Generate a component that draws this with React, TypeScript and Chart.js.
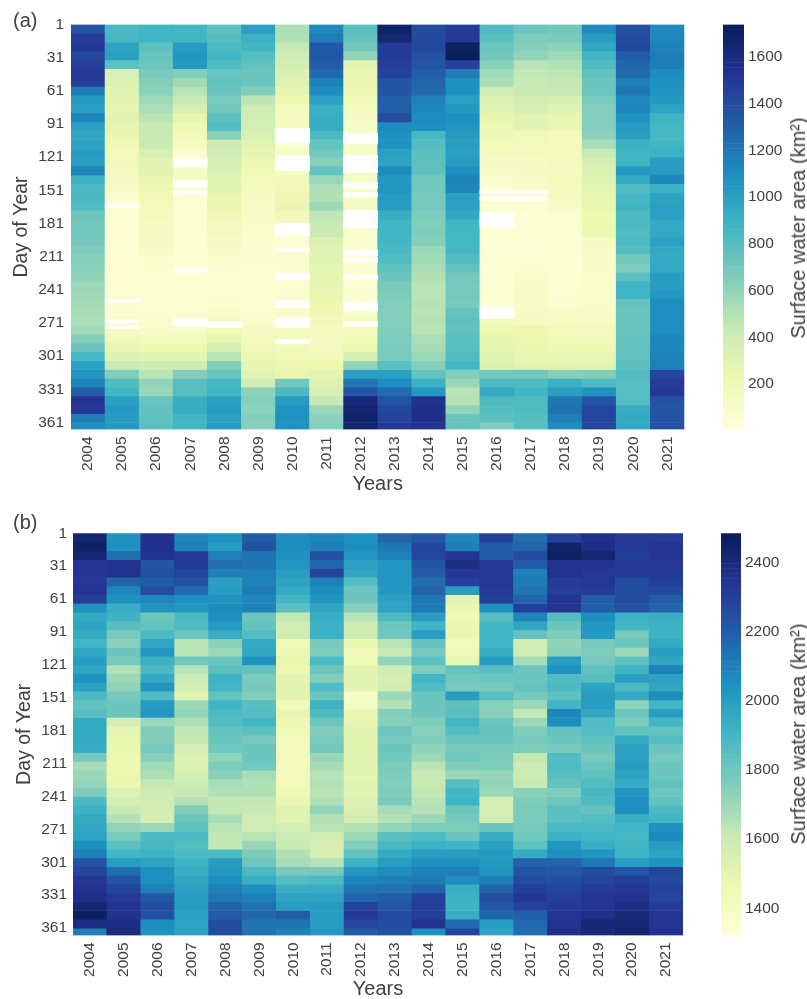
import React, { useEffect, useRef } from "react";
import { Chart, registerables } from "chart.js";

Chart.register(...registerables);

const years = ["2004","2005","2006","2007","2008","2009","2010","2011","2012","2013","2014","2015","2016","2017","2018","2019","2020","2021"];
const dayTicks = [1,31,61,91,121,151,181,211,241,271,301,331,361];
const rowDays = [1,9,17,25,33,41,49,57,65,73,81,89,97,105,113,121,129,137,145,153,161,169,177,185,193,201,209,217,225,233,241,249,257,265,273,281,289,297,305,313,321,329,337,345,353,361];
const barTicksA = [200,400,600,800,1000,1200,1400,1600];
const barTicksB = [1400,1600,1800,2000,2200,2400];
const paletteStops = ["#ffffd9","#edf8b1","#c7e9b4","#7fcdbb","#41b6c4","#1d91c0","#225ea8","#253494","#081d58"];

const a2004 = [1350,1480,1500,1430,1470,1500,1480,1180,1030,1000,1140,1010,960,980,1030,1010,1150,900,830,840,820,720,700,700,690,660,640,620,600,570,560,540,530,520,560,650,720,850,1000,1060,1150,1300,1520,1500,1180,1100];
const a2005 = [840,850,980,1000,780,340,320,300,280,260,280,260,250,200,170,180,150,120,100,60,50,50,45,45,45,45,45,45,45,45,50,60,70,90,130,180,250,320,430,650,820,880,1000,1050,1030,1040];
const a2006 = [880,880,780,740,720,680,640,620,560,520,480,430,420,420,350,300,280,250,230,200,170,150,130,130,120,110,70,70,50,50,50,50,60,80,100,150,220,300,400,480,600,580,740,760,770,780];
const a2007 = [860,870,1030,1060,1040,650,560,480,420,340,250,200,170,130,70,60,130,120,100,50,50,50,50,50,50,50,50,50,50,50,50,50,60,80,110,150,220,280,400,650,790,800,920,930,870,870];
const a2008 = [760,800,830,860,820,740,760,730,680,700,770,800,630,420,380,350,340,280,280,240,230,200,150,150,130,100,70,60,50,50,60,70,90,130,190,250,340,480,650,740,860,880,1000,1030,1000,1030];
const a2009 = [1000,900,870,800,760,730,720,650,470,400,380,370,340,300,260,230,200,170,140,130,100,100,90,80,70,60,60,50,50,50,50,50,60,80,120,150,200,230,260,300,380,620,640,620,640,640];
const a2010 = [520,510,440,400,370,330,300,270,220,160,140,150,90,70,110,120,100,180,180,210,250,180,130,60,50,60,60,60,60,60,60,60,90,120,130,150,170,200,230,250,700,830,1030,1070,1080,1080];
const a2011 = [1120,1180,1330,1340,1320,1260,1150,1100,1000,900,930,920,830,750,700,630,750,580,520,500,570,460,430,420,330,300,290,270,260,250,240,230,210,170,130,130,140,180,220,280,320,340,430,580,620,640];
const a2012 = [780,760,700,600,280,250,250,230,200,150,120,100,90,90,100,90,170,120,100,110,130,110,120,70,60,60,60,60,60,60,60,70,90,120,150,190,230,350,600,1000,1200,1350,1620,1660,1680,1660];
const a2013 = [1680,1640,1480,1480,1470,1450,1350,1350,1300,1310,1400,1100,1090,1080,1000,980,1120,1040,1060,1030,1020,920,880,870,860,840,820,770,720,680,660,650,640,640,650,660,680,680,780,1000,1100,1250,1360,1420,1440,1500];
const a2014 = [1400,1410,1420,1380,1350,1300,1280,1260,1160,1130,1110,1090,850,800,780,770,770,700,700,680,690,660,650,660,640,570,560,530,500,480,480,490,480,490,480,520,540,570,640,750,900,1050,1550,1560,1560,1530];
const a2015 = [1480,1500,1700,1720,1450,1180,1080,1090,1000,1050,1090,1060,1040,1020,1000,1030,1100,1150,1130,1000,1000,950,870,860,860,860,820,760,700,680,690,680,750,770,760,780,800,820,860,650,580,480,490,600,720,750];
const a2016 = [820,780,720,700,620,550,520,400,320,280,250,220,200,170,150,120,100,80,70,60,60,40,40,40,40,40,40,40,40,40,40,40,150,170,220,250,270,280,330,700,830,950,830,790,770,650];
const a2017 = [730,660,640,600,480,450,430,420,380,350,290,280,180,170,150,130,130,110,90,80,60,40,40,40,40,40,40,60,80,100,100,110,120,130,220,230,240,250,300,700,820,880,820,820,800,790];
const a2018 = [700,680,620,560,500,470,450,430,350,300,250,240,150,150,150,150,140,170,150,140,110,60,50,50,50,50,50,50,50,50,60,70,100,130,170,190,220,250,300,640,900,1000,1200,1220,1160,1100];
const a2019 = [1120,1030,960,860,820,760,720,720,680,640,640,640,620,530,430,360,330,310,270,240,240,220,220,230,120,100,90,90,80,80,80,90,110,130,150,180,210,250,300,650,820,1080,1350,1430,1430,1430];
const a2020 = [1380,1400,1420,1320,1270,1250,1160,1200,1120,1130,1070,1030,1010,900,880,870,1040,950,820,850,880,830,830,820,830,800,700,660,780,880,880,750,720,720,730,740,760,760,780,820,800,800,800,930,950,950];
const a2021 = [1120,1130,1150,1180,1170,1110,1090,1070,1040,980,880,860,850,880,900,1020,1030,1130,900,980,1000,1000,950,950,1000,950,950,950,1020,1020,1050,1100,1100,1100,1100,1130,1130,1150,1160,1430,1480,1500,1380,1350,1360,1370];

const b2004 = [2430,2450,2420,2340,2340,2330,2340,2300,2040,1950,1970,1950,1900,1960,2000,1970,2040,1980,1880,1820,1850,1950,1950,1950,1940,1780,1680,1700,1720,1760,1880,1920,1950,1960,1980,2050,2100,2230,2280,2330,2350,2370,2420,2460,2380,2100];
const b2005 = [2040,2050,2150,2350,2350,2180,2080,2050,1940,1910,1850,1780,1740,1800,1780,1660,1700,1720,1780,1800,1810,1550,1500,1480,1480,1470,1460,1470,1480,1530,1560,1610,1650,1720,1770,1840,1900,2000,2150,2230,2280,2320,2340,2350,2380,2390];
const b2006 = [2350,2360,2350,2220,2240,2200,2250,2080,2040,1800,1820,1880,1960,2030,1920,1880,1950,2030,1870,2010,2020,1700,1760,1750,1780,1740,1690,1670,1620,1590,1580,1570,1560,1700,1880,1890,1920,1980,2050,2050,2100,2220,2250,2240,2060,2040];
const b2007 = [2080,2100,2320,2330,2280,2240,2160,2050,2020,1880,1870,1800,1640,1640,1790,1640,1590,1560,1520,1700,1720,1660,1620,1610,1560,1530,1530,1560,1590,1610,1650,1760,1810,1830,1880,1860,1880,1910,1930,1960,1990,2000,2010,1990,1980,1990];
const b2008 = [2040,2010,2100,2150,2100,1990,2000,2040,2060,2050,2010,1940,1740,1700,1800,1840,1910,1900,1820,1900,1880,1860,1820,1800,1790,1730,1760,1740,1680,1660,1620,1620,1680,1640,1620,1620,1880,2000,2020,2050,2100,2120,2180,2200,2250,2260];
const b2009 = [2200,2230,2130,2130,2100,2090,2110,2080,2090,1800,1820,1860,1950,1960,2040,1820,1770,1780,1750,1850,1860,1900,1840,1780,1800,1800,1790,1680,1660,1660,1620,1600,1580,1580,1640,1710,1760,1800,1880,1930,2050,2100,2140,2170,2130,2140];
const b2010 = [2060,2060,2040,2030,2000,1980,1950,1900,1840,1620,1570,1570,1450,1470,1480,1460,1500,1510,1500,1430,1490,1460,1450,1420,1420,1430,1420,1420,1430,1450,1480,1520,1520,1560,1590,1600,1660,1680,1780,1860,1930,1980,2000,2200,2130,2090];
const b2011 = [2080,2100,2240,2170,2280,2090,2060,2030,1970,1930,1920,1920,1780,1760,1880,1800,1750,1870,1800,1920,1870,1800,1750,1770,1790,1710,1680,1640,1650,1640,1660,1720,1650,1640,1580,1540,1560,1650,1780,1880,1940,1980,2010,2000,2000,2030];
const b2012 = [2050,2050,2020,1990,1960,1860,1800,1800,1740,1640,1580,1590,1480,1440,1450,1500,1510,1500,1390,1400,1480,1490,1510,1500,1500,1510,1500,1500,1520,1510,1530,1540,1560,1650,1700,1750,1820,1920,2020,2080,2130,2170,2290,2330,2280,2200];
const b2013 = [2180,2120,2090,2030,2030,2030,2020,1990,1980,1880,1800,1790,1640,1600,1720,1580,1560,1570,1700,1650,1750,1740,1800,1780,1800,1790,1770,1760,1750,1760,1770,1680,1650,1720,1840,1880,1950,2000,2060,2100,2130,2200,2220,2260,2250,2240];
const b2014 = [2220,2280,2280,2220,2200,2150,2180,2120,2110,2000,1900,2000,1820,1780,1840,1760,1900,1870,1800,1800,1800,1760,1740,1760,1720,1700,1640,1600,1610,1620,1640,1650,1700,1760,1870,1920,2000,2050,2100,2110,2180,2290,2300,2300,2350,2050];
const b2015 = [2080,2100,2340,2380,2330,2300,2000,1520,1470,1450,1470,1480,1430,1450,1490,1820,1790,1780,2000,1830,1850,1900,1860,1800,1780,1790,1750,1700,1850,1900,1910,1800,1780,1760,1800,1900,2000,2050,2100,2060,1930,1920,1910,1940,2160,2280];
const b2016 = [2290,2200,2200,2320,2330,2330,2320,2300,2050,1850,1900,1900,1900,1930,2000,1850,1800,1780,1850,1740,1740,1800,1820,1800,1780,1770,1760,1710,1720,1700,1560,1560,1570,1800,1930,1990,2010,2020,2030,2100,2180,2250,2220,2170,2000,1980];
const b2017 = [2150,2180,2260,2200,2100,2110,2130,2180,2300,2080,1970,1820,1580,1580,1680,1800,1800,1820,1780,1700,1620,1700,1760,1780,1760,1620,1590,1590,1610,1740,1760,1770,1770,1780,1790,1830,1950,2180,2230,2260,2300,2330,2290,2190,2160,2150];
const b2018 = [2290,2440,2450,2350,2350,2310,2300,2340,2340,1860,1800,1760,1720,1740,2000,2040,1870,1880,1830,1900,2080,2050,1820,1800,1780,1860,1870,1850,1820,1760,1800,1840,1840,1880,1920,2030,2050,2180,2220,2250,2280,2300,2320,2340,2350,2370];
const b2019 = [2360,2380,2430,2350,2330,2330,2310,2200,2190,2050,2020,2010,1780,1760,1780,1830,1850,1980,2000,2000,1960,1870,1860,1830,1800,1780,1810,1830,1860,1890,1880,1820,1860,1880,1900,1940,2030,2120,2250,2280,2320,2340,2340,2370,2420,2400];
const b2020 = [2320,2320,2300,2320,2310,2250,2250,2260,2240,1920,1900,1780,1800,1700,1830,1900,2000,1880,1950,1730,1800,1760,1820,1950,1990,1990,2000,1980,1950,2030,2050,2050,1930,1900,1890,1900,1910,2000,2210,2300,2330,2350,2380,2410,2420,2430];
const b2021 = [2320,2340,2340,2330,2320,2300,2270,2200,2180,1930,1920,1920,1950,2000,1960,2090,1980,1960,2060,1900,2000,1900,1820,1860,1800,1780,1800,1800,1830,1800,1820,1880,1900,2040,2070,2000,1980,2040,2280,2260,2290,2280,2310,2340,2340,2350];

// Periods with no data in panel (a): [year, first day, last day]
const missingA: [string, number, number][] = [
  ["2005",164,167],["2005",250,252],["2005",268,271],["2005",273.5,276],
  ["2007",122,130],["2007",142,148],["2007",151,155],["2007",222,225],["2007",267,274],
  ["2008",270,275],
  ["2010",95,108],["2010",119.5,133],["2010",181,192],["2010",203,206],["2010",226,232],["2010",251,257],["2010",266,275],["2010",286,290],
  ["2012",99.6,108.6],["2012",119.5,135],["2012",144,149],["2012",153,157],["2012",169,185],["2012",205,210],["2012",212,216],["2012",228,232],["2012",252,260],["2012",270,274],
  ["2016",151,154],["2016",157,160],["2017",151,154],["2017",157,160],["2016",171,184],["2016",257,267],
];

const tableA = [a2004,a2005,a2006,a2007,a2008,a2009,a2010,a2011,a2012,a2013,a2014,a2015,a2016,a2017,a2018,a2019,a2020,a2021];
const tableB = [b2004,b2005,b2006,b2007,b2008,b2009,b2010,b2011,b2012,b2013,b2014,b2015,b2016,b2017,b2018,b2019,b2020,b2021];

const FONT = "'Liberation Sans', Arial, sans-serif";
const INK = "#404040";
const SOFT = "blur(0.55px)";

function hexRgb(h: string) {
  return [1, 3, 5].map((i) => parseInt(h.slice(i, i + 2), 16));
}
function colour(v: number, lo: number, hi: number) {
  const t = Math.max(0, Math.min(1, (v - lo) / (hi - lo))) * (paletteStops.length - 1);
  const i = Math.min(paletteStops.length - 2, Math.floor(t));
  const a = hexRgb(paletteStops[i]);
  const b = hexRgb(paletteStops[i + 1]);
  const f = t - i;
  return `rgb(${a.map((c, k) => Math.round(c + (b[k] - c) * f)).join(",")})`;
}

type HeatCfg = {
  table: number[][]; lo: number; hi: number; missing: [string, number, number][];
  dayMax: number; left: number; top: number; xHeight: number; right: number;
  tickPad: number; xPad: number; yTitlePad: number; xTitlePad: number;
};

function makeHeat(canvas: HTMLCanvasElement, c: HeatCfg) {
  // Chart.js paints the first dataset last, so the no-data periods go first.
  const datasets: any[] = c.missing.map(([yr, s, e]) => ({
    data: years.map((y) => (y === yr ? [s, e] : null)),
    backgroundColor: "#ffffff",
  }));
  rowDays.forEach((day, r) => {
    datasets.push({
      data: years.map(() => [day, r + 1 < rowDays.length ? rowDays[r + 1] : c.dayMax]),
      backgroundColor: years.map((_, k) => colour(c.table[k][r], c.lo, c.hi)),
    });
  });
  return new Chart(canvas, {
    type: "bar",
    data: { labels: years, datasets },
    options: {
      animation: false,
      responsive: false,
      layout: { padding: { top: c.top, right: c.right, left: 0, bottom: 0 } },
      datasets: { bar: { barPercentage: 1, categoryPercentage: 1, grouped: false, borderWidth: 0 } },
      plugins: { legend: { display: false }, tooltip: { enabled: false }, title: { display: false } },
      scales: {
        x: {
          type: "category",
          grid: { display: false, drawTicks: false },
          border: { display: false },
          ticks: { minRotation: 90, maxRotation: 90, autoSkip: false, padding: c.xPad, color: INK, font: { family: FONT, size: 15.5, lineHeight: 1 } },
          title: { display: true, text: "Years", color: INK, padding: { top: 0, bottom: c.xTitlePad }, font: { family: FONT, size: 20, lineHeight: 1 } },
          afterFit: (s: any) => { s.height = c.xHeight; },
        },
        y: {
          type: "linear",
          reverse: true,
          min: 1,
          max: c.dayMax,
          grid: { display: false, drawTicks: false },
          border: { display: false },
          afterBuildTicks: (s: any) => { s.ticks = dayTicks.map((value) => ({ value })); },
          ticks: { autoSkip: false, padding: c.tickPad, color: INK, font: { family: FONT, size: 15.5, lineHeight: 1 } },
          title: { display: true, text: "Day of Year", color: INK, padding: { top: c.yTitlePad, bottom: 0 }, font: { family: FONT, size: 19.5, lineHeight: 1 } },
          afterFit: (s: any) => { s.width = c.left; },
        },
      },
    } as any,
  });
}

type BarCfg = { lo: number; hi: number; ticks: number[]; top: number; bottom: number; plotLeft: number; width: number; };

function makeColorBar(canvas: HTMLCanvasElement, c: BarCfg) {
  const steps = 160;
  const datasets: any[] = [];
  for (let i = 0; i < steps; i++) {
    const a = c.lo + ((c.hi - c.lo) * i) / steps;
    const b = c.lo + ((c.hi - c.lo) * (i + 1)) / steps;
    datasets.push({ data: [[a, b]], backgroundColor: colour((a + b) / 2, c.lo, c.hi) });
  }
  return new Chart(canvas, {
    type: "bar",
    data: { labels: ["Surface water area"], datasets },
    options: {
      animation: false,
      responsive: false,
      layout: { padding: { top: c.top, bottom: c.bottom, left: c.plotLeft, right: 0 } },
      datasets: { bar: { barPercentage: 1, categoryPercentage: 1, grouped: false, borderWidth: 0 } },
      plugins: { legend: { display: false }, tooltip: { enabled: false } },
      scales: {
        x: { display: false },
        y: {
          type: "linear",
          position: "right",
          min: c.lo,
          max: c.hi,
          grid: { display: false, drawTicks: false },
          border: { display: false },
          afterBuildTicks: (s: any) => { s.ticks = c.ticks.map((value) => ({ value })); },
          ticks: { autoSkip: false, padding: 4, color: INK, callback: (v: any) => String(v), font: { family: FONT, size: 15.5, lineHeight: 1 } },
          afterFit: (s: any) => { s.width = c.width; },
        },
      },
    } as any,
  });
}

const panelLabel = (top: number): React.CSSProperties => ({
  position: "absolute", left: 13, top, font: `20px ${FONT}`, color: INK, lineHeight: "22px", filter: SOFT,
});

const barTitle = (cy: number): React.CSSProperties => ({
  position: "absolute", left: 798, top: cy, font: `20px ${FONT}`, color: INK, lineHeight: "20px", whiteSpace: "nowrap",
  transform: "translate(-50%, -50%) rotate(-90deg)", filter: SOFT,
});

export default function App() {
  const heatA = useRef<HTMLCanvasElement>(null);
  const heatB = useRef<HTMLCanvasElement>(null);
  const barA = useRef<HTMLCanvasElement>(null);
  const barB = useRef<HTMLCanvasElement>(null);

  useEffect(() => {
    const charts = [
      makeHeat(heatA.current!, { table: tableA, lo: 5, hi: 1739, missing: missingA, dayMax: 367.3, left: 71, top: 24.5, xHeight: 70.5, right: 5, tickPad: 7, xPad: 7, yTitlePad: 12, xTitlePad: 6 }),
      makeHeat(heatB.current!, { table: tableB, lo: 1322, hi: 2484, missing: [], dayMax: 367.7, left: 73, top: 28.3, xHeight: 63.6, right: 7, tickPad: 6, xPad: 7, yTitlePad: 15, xTitlePad: 0 }),
      makeColorBar(barA.current!, { lo: 5, hi: 1739, ticks: barTicksA, top: 24.5, bottom: 70.5, plotLeft: 8, width: 63 }),
      makeColorBar(barB.current!, { lo: 1322, hi: 2484, ticks: barTicksB, top: 28.3, bottom: 63.6, plotLeft: 6, width: 66 }),
    ];
    return () => charts.forEach((c) => c.destroy());
  }, []);

  const canvasStyle = (left: number, top: number): React.CSSProperties => ({ position: "absolute", left, top, filter: SOFT });

  return (
    <div style={{ position: "absolute", left: 0, top: 0, width: 807, height: 999, background: "#fff", overflow: "hidden" }}>
      <canvas ref={heatA} width={690} height={500} style={canvasStyle(0, 0)} />
      <canvas ref={barA} width={92} height={500} style={canvasStyle(715, 0)} />
      <canvas ref={heatB} width={690} height={494} style={canvasStyle(0, 505)} />
      <canvas ref={barB} width={92} height={494} style={canvasStyle(715, 505)} />
      <div style={panelLabel(9)}>(a)</div>
      <div style={panelLabel(511)}>(b)</div>
      <div style={barTitle(227.5)}>Surface water area (km²)</div>
      <div style={barTitle(734)}>Surface water area (km²)</div>
    </div>
  );
}
